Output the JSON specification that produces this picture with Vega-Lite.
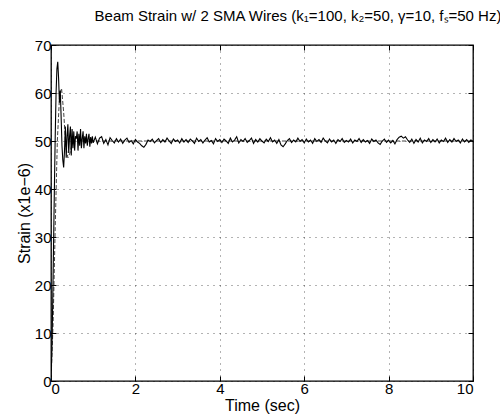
{
  "$schema": "https://vega.github.io/schema/vega-lite/v6.json",
  "autosize": "none",
  "width": 422,
  "height": 336,
  "padding": {"left": 51, "top": 45, "right": 27, "bottom": 38},
  "background": "white",
  "title": {
    "text": "Beam Strain w/ 2 SMA Wires (k₁=100, k₂=50, γ=10, fₛ=50 Hz)",
    "font": "Liberation Sans",
    "fontSize": 15,
    "fontWeight": "normal",
    "color": "black",
    "offset": 14,
    "anchor": "middle",
    "dx": 36
  },
  "config": {
    "view": {"stroke": "black", "strokeWidth": 1.3},
    "axis": {
      "labelFont": "Liberation Sans",
      "titleFont": "Liberation Sans",
      "labelFontSize": 15,
      "titleFontSize": 16,
      "titleFontWeight": "normal",
      "labelColor": "black",
      "titleColor": "black",
      "domain": false,
      "tickColor": "black",
      "tickSize": -5,
      "labelPadding": 3,
      "grid": true,
      "gridColor": "black",
      "gridDash": [1, 5],
      "gridOpacity": 0.6
    }
  },
  "resolve": {"axis": {"x": "independent", "y": "independent"}},
  "datasets": {
    "ref": [
      {"t": 0, "v": 0}, {"t": 0.05, "v": 12}, {"t": 0.1, "v": 32}, {"t": 0.15, "v": 50}, {"t": 0.2, "v": 59},
      {"t": 0.25, "v": 61}, {"t": 0.3, "v": 56}, {"t": 0.35, "v": 49}, {"t": 0.4, "v": 46.5}, {"t": 0.45, "v": 47.5},
      {"t": 0.5, "v": 49.5}, {"t": 0.6, "v": 51}, {"t": 0.7, "v": 50.5}, {"t": 0.8, "v": 49.8}, {"t": 1.0, "v": 50},
      {"t": 10, "v": 50}
    ],
    "meas": [
      {"t": 0, "v": 0}, {"t": 0.02, "v": 6}, {"t": 0.04, "v": 16}, {"t": 0.06, "v": 28}, {"t": 0.08, "v": 40},
      {"t": 0.1, "v": 51}, {"t": 0.12, "v": 60}, {"t": 0.14, "v": 65}, {"t": 0.16, "v": 66.5}, {"t": 0.18, "v": 63},
      {"t": 0.2, "v": 58}, {"t": 0.22, "v": 60.5}, {"t": 0.24, "v": 55}, {"t": 0.26, "v": 49}, {"t": 0.28, "v": 46},
      {"t": 0.3, "v": 44.5}, {"t": 0.32, "v": 48}, {"t": 0.34, "v": 53}, {"t": 0.36, "v": 46.5}, {"t": 0.38, "v": 51},
      {"t": 0.4, "v": 53.5}, {"t": 0.42, "v": 47.5}, {"t": 0.44, "v": 51}, {"t": 0.46, "v": 53}, {"t": 0.48, "v": 47},
      {"t": 0.5, "v": 52.5}, {"t": 0.52, "v": 48.5}, {"t": 0.54, "v": 52}, {"t": 0.56, "v": 48}, {"t": 0.58, "v": 51},
      {"t": 0.6, "v": 50.5}, {"t": 0.62, "v": 52}, {"t": 0.64, "v": 48}, {"t": 0.66, "v": 51.5}, {"t": 0.68, "v": 49},
      {"t": 0.7, "v": 52.5}, {"t": 0.72, "v": 48.5}, {"t": 0.74, "v": 50.5}, {"t": 0.76, "v": 52}, {"t": 0.78, "v": 48.5},
      {"t": 0.8, "v": 51}, {"t": 0.82, "v": 49.5}, {"t": 0.84, "v": 51.5}, {"t": 0.86, "v": 49}, {"t": 0.88, "v": 50.5},
      {"t": 0.9, "v": 51.5}, {"t": 0.92, "v": 48.8}, {"t": 0.94, "v": 50.8}, {"t": 0.96, "v": 49.5}, {"t": 0.98, "v": 51},
      {"t": 1.0, "v": 49.6}, {"t": 1.05, "v": 50.8}, {"t": 1.1, "v": 49.4}, {"t": 1.15, "v": 50.6}, {"t": 1.2, "v": 50.9},
      {"t": 1.25, "v": 49.5}, {"t": 1.3, "v": 50.3}, {"t": 1.35, "v": 49.2}, {"t": 1.4, "v": 50.7}, {"t": 1.45, "v": 50.1},
      {"t": 1.5, "v": 49.6}, {"t": 1.55, "v": 50.5}, {"t": 1.6, "v": 49.8}, {"t": 1.65, "v": 50.4}, {"t": 1.7, "v": 49.5},
      {"t": 1.75, "v": 50.2}, {"t": 1.8, "v": 50.6}, {"t": 1.85, "v": 49.7}, {"t": 1.9, "v": 50.1}, {"t": 1.95, "v": 49.4},
      {"t": 2.0, "v": 50.3}, {"t": 2.05, "v": 49.8}, {"t": 2.1, "v": 49.5}, {"t": 2.15, "v": 49.0}, {"t": 2.2, "v": 48.7},
      {"t": 2.25, "v": 49.3}, {"t": 2.3, "v": 50.2}, {"t": 2.35, "v": 49.9}, {"t": 2.4, "v": 50.4}, {"t": 2.45, "v": 49.6},
      {"t": 2.5, "v": 50.1}, {"t": 2.55, "v": 50.5}, {"t": 2.6, "v": 49.7}, {"t": 2.65, "v": 50.3}, {"t": 2.7, "v": 49.8},
      {"t": 2.75, "v": 50.6}, {"t": 2.8, "v": 50.0}, {"t": 2.85, "v": 49.5}, {"t": 2.9, "v": 50.4}, {"t": 2.95, "v": 49.9},
      {"t": 3.0, "v": 50.2}, {"t": 3.05, "v": 49.6}, {"t": 3.1, "v": 50.5}, {"t": 3.15, "v": 49.8}, {"t": 3.2, "v": 50.3},
      {"t": 3.25, "v": 49.7}, {"t": 3.3, "v": 50.4}, {"t": 3.35, "v": 50.0}, {"t": 3.4, "v": 49.5}, {"t": 3.45, "v": 50.6},
      {"t": 3.5, "v": 49.9}, {"t": 3.55, "v": 50.3}, {"t": 3.6, "v": 49.6}, {"t": 3.65, "v": 50.2}, {"t": 3.7, "v": 50.7},
      {"t": 3.75, "v": 49.8}, {"t": 3.8, "v": 50.1}, {"t": 3.85, "v": 49.4}, {"t": 3.9, "v": 50.5}, {"t": 3.95, "v": 49.9},
      {"t": 4.0, "v": 50.3}, {"t": 4.05, "v": 49.7}, {"t": 4.1, "v": 50.4}, {"t": 4.15, "v": 50.0}, {"t": 4.2, "v": 49.5},
      {"t": 4.25, "v": 50.6}, {"t": 4.3, "v": 49.8}, {"t": 4.35, "v": 50.2}, {"t": 4.4, "v": 50.9}, {"t": 4.45, "v": 49.6},
      {"t": 4.5, "v": 50.3}, {"t": 4.55, "v": 49.9}, {"t": 4.6, "v": 50.5}, {"t": 4.65, "v": 49.7}, {"t": 4.7, "v": 50.1},
      {"t": 4.75, "v": 50.6}, {"t": 4.8, "v": 49.5}, {"t": 4.85, "v": 50.3}, {"t": 4.9, "v": 49.8}, {"t": 4.95, "v": 50.5},
      {"t": 5.0, "v": 50.0}, {"t": 5.05, "v": 49.6}, {"t": 5.1, "v": 50.4}, {"t": 5.15, "v": 49.9}, {"t": 5.2, "v": 50.7},
      {"t": 5.25, "v": 49.8}, {"t": 5.3, "v": 50.2}, {"t": 5.35, "v": 49.5}, {"t": 5.4, "v": 50.3}, {"t": 5.45, "v": 49.2},
      {"t": 5.5, "v": 48.8}, {"t": 5.55, "v": 49.4}, {"t": 5.6, "v": 50.1}, {"t": 5.65, "v": 50.5}, {"t": 5.7, "v": 49.7},
      {"t": 5.75, "v": 50.2}, {"t": 5.8, "v": 49.8}, {"t": 5.85, "v": 50.6}, {"t": 5.9, "v": 49.9}, {"t": 5.95, "v": 50.3},
      {"t": 6.0, "v": 49.6}, {"t": 6.05, "v": 50.4}, {"t": 6.1, "v": 49.8}, {"t": 6.15, "v": 50.2}, {"t": 6.2, "v": 49.5},
      {"t": 6.25, "v": 50.5}, {"t": 6.3, "v": 49.9}, {"t": 6.35, "v": 50.3}, {"t": 6.4, "v": 49.7}, {"t": 6.45, "v": 50.6},
      {"t": 6.5, "v": 50.0}, {"t": 6.55, "v": 49.6}, {"t": 6.6, "v": 50.4}, {"t": 6.65, "v": 49.8}, {"t": 6.7, "v": 50.2},
      {"t": 6.75, "v": 49.5}, {"t": 6.8, "v": 50.3}, {"t": 6.85, "v": 49.9}, {"t": 6.9, "v": 50.5}, {"t": 6.95, "v": 49.7},
      {"t": 7.0, "v": 50.1}, {"t": 7.05, "v": 49.8}, {"t": 7.1, "v": 50.4}, {"t": 7.15, "v": 49.6}, {"t": 7.2, "v": 50.2},
      {"t": 7.25, "v": 49.9}, {"t": 7.3, "v": 50.5}, {"t": 7.35, "v": 49.7}, {"t": 7.4, "v": 50.3}, {"t": 7.45, "v": 49.8},
      {"t": 7.5, "v": 50.1}, {"t": 7.55, "v": 49.5}, {"t": 7.6, "v": 50.4}, {"t": 7.65, "v": 49.9}, {"t": 7.7, "v": 50.2},
      {"t": 7.75, "v": 49.6}, {"t": 7.8, "v": 49.3}, {"t": 7.85, "v": 50.0}, {"t": 7.9, "v": 50.4}, {"t": 7.95, "v": 49.7},
      {"t": 8.0, "v": 50.2}, {"t": 8.05, "v": 49.6}, {"t": 8.1, "v": 50.1}, {"t": 8.15, "v": 49.4}, {"t": 8.2, "v": 50.3},
      {"t": 8.25, "v": 50.8}, {"t": 8.3, "v": 51.0}, {"t": 8.35, "v": 50.6}, {"t": 8.4, "v": 50.9}, {"t": 8.45, "v": 50.2},
      {"t": 8.5, "v": 49.7}, {"t": 8.55, "v": 50.4}, {"t": 8.6, "v": 49.5}, {"t": 8.65, "v": 50.3}, {"t": 8.7, "v": 49.8},
      {"t": 8.75, "v": 50.6}, {"t": 8.8, "v": 49.6}, {"t": 8.85, "v": 50.2}, {"t": 8.9, "v": 49.9}, {"t": 8.95, "v": 50.5},
      {"t": 9.0, "v": 49.7}, {"t": 9.05, "v": 50.3}, {"t": 9.1, "v": 49.8}, {"t": 9.15, "v": 50.4}, {"t": 9.2, "v": 49.6},
      {"t": 9.25, "v": 50.2}, {"t": 9.3, "v": 49.9}, {"t": 9.35, "v": 50.6}, {"t": 9.4, "v": 49.7}, {"t": 9.45, "v": 50.3},
      {"t": 9.5, "v": 49.8}, {"t": 9.55, "v": 50.5}, {"t": 9.6, "v": 49.9}, {"t": 9.65, "v": 50.2}, {"t": 9.7, "v": 49.6},
      {"t": 9.75, "v": 50.4}, {"t": 9.8, "v": 49.8}, {"t": 9.85, "v": 50.3}, {"t": 9.9, "v": 49.7}, {"t": 9.95, "v": 50.2},
      {"t": 10.0, "v": 50.0}
    ]
  },
  "layer": [
    {
      "data": {"name": "ref"},
      "mark": {"type": "line", "color": "#444444", "strokeWidth": 1, "strokeDash": [4, 2], "clip": true},
      "encoding": {
        "x": {"field": "t", "type": "quantitative", "scale": {"domain": [0, 10], "nice": false},
              "axis": {"title": "Time (sec)", "values": [0, 2, 4, 6, 8, 10], "titlePadding": 1, "labelPadding": 5}},
        "y": {"field": "v", "type": "quantitative", "scale": {"domain": [0, 70], "nice": false},
              "axis": {"title": "Strain (x1e−6)", "values": [0, 10, 20, 30, 40, 50, 60, 70], "titlePadding": 2, "labelPadding": 5}}
      }
    },
    {
      "data": {"name": "meas"},
      "mark": {"type": "line", "color": "black", "strokeWidth": 1.1, "clip": true},
      "encoding": {
        "x": {"field": "t", "type": "quantitative", "scale": {"domain": [0, 10], "nice": false},
              "axis": {"orient": "top", "title": null, "labels": false, "grid": false, "values": [0, 2, 4, 6, 8, 10]}},
        "y": {"field": "v", "type": "quantitative", "scale": {"domain": [0, 70], "nice": false},
              "axis": {"orient": "right", "title": null, "labels": false, "grid": false, "values": [0, 10, 20, 30, 40, 50, 60, 70]}}
      }
    }
  ]
}
